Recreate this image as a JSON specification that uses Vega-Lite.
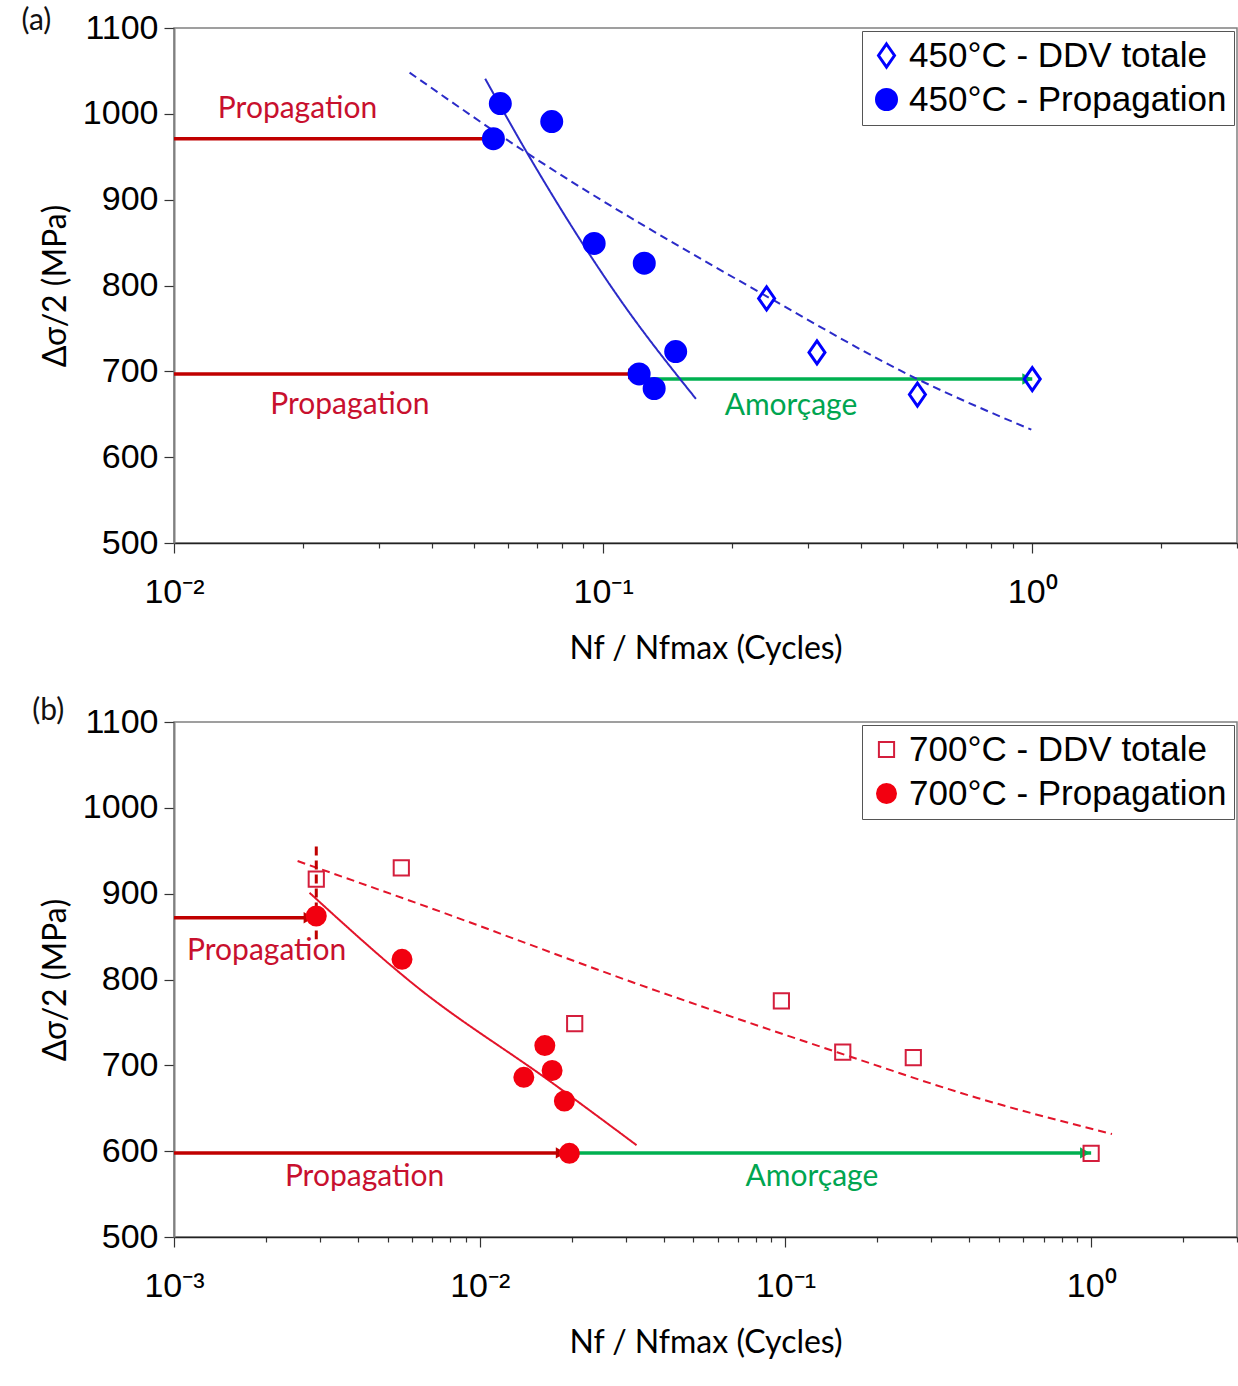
{
  "$schema": "https://vega.github.io/schema/vega-lite/v6.json",
  "padding": {"left": 20, "top": 5, "right": 0, "bottom": 0},
  "autosize": {"type": "pad"},
  "spacing": 179,
  "bounds": "flush",
  "background": "white",
  "config": {
    "view": {"stroke": "#808080", "strokeWidth": 1.5},
    "axis": {
      "labelFont": "Liberation Sans", "labelFontSize": 34, "labelColor": "#000",
      "titleFont": "Lato", "titleFontSize": 32, "titleFontWeight": "normal", "titleColor": "#000",
      "grid": false, "tickColor": "#333", "tickWidth": 1.2, "domainWidth": 1.5
    },
    "legend": {"labelFont": "Liberation Sans", "labelLimit": 0}
  },
  "resolve": {"scale": {"stroke": "independent", "fill": "independent", "shape": "independent", "strokeDash": "independent", "color": "independent"}},
  "vconcat": [
    {
      "width": 1063, "height": 515,
      "encoding": {
        "x": {"field": "x", "type": "quantitative",
          "scale": {"type": "log", "domain": [0.01, 3], "nice": false},
          "axis": {
            "values": [0.01,0.02,0.03,0.04,0.05,0.06,0.07,0.08,0.09,0.1,0.2,0.3,0.4,0.5,0.6,0.7,0.8,0.9,1,2,3],
            "labelExpr": "datum.value == 0.01 ? '10⁻²' : datum.value == 0.1 ? '10⁻¹' : datum.value == 1 ? '10⁰' : ''",
            "tickSize": {"condition": {"test": "datum.value == 0.01 || datum.value == 0.1 || datum.value == 1", "value": 10}, "value": 5},
            "labelOverlap": false, "labelFlush": false, "labelPadding": 22, "titlePadding": 24, "domainColor": "#222",
            "title": "Nf / Nfmax (Cycles)"
          }},
        "y": {"field": "y", "type": "quantitative",
          "scale": {"domain": [500, 1100], "nice": false, "zero": false},
          "axis": {"values": [500,600,700,800,900,1000,1100], "format": "d", "tickSize": 10, "labelPadding": 6, "titlePadding": 10, "domainColor": "#808080", "domainWidth": 2, "title": "Δσ/2 (MPa)"}}
      },
      "layer": [
        {
          "data": {"values": [
            {"phase": "Propagation", "x": 0.01, "x2": 0.0552, "y": 971},
            {"phase": "Propagation", "x": 0.01, "x2": 0.1206, "y": 697},
            {"phase": "Amorçage", "x": 0.1206, "x2": 1.0, "y": 691}
          ]},
          "mark": {"type": "rule", "strokeWidth": 3.5},
          "encoding": {
            "x2": {"field": "x2"},
            "color": {"condition": {"test": "datum.phase === 'Amorçage'", "value": "#00B050"}, "value": "#C00000"}
          }
        },
        {
          "data": {"values": [
            {"phase": "Propagation", "x": 0.054, "y": 971},
            {"phase": "Propagation", "x": 0.1174, "y": 697},
            {"phase": "Amorçage", "x": 0.9736, "y": 691}
          ]},
          "mark": {"type": "point", "shape": "triangle-right", "filled": true, "opacity": 1, "size": 130},
          "encoding": {
            "color": {"condition": {"test": "datum.phase === 'Amorçage'", "value": "#00B050"}, "value": "#C00000"}
          }
        },
        {
          "data": {"values": [
            {"fit": "DDV totale", "x": 0.0354, "y": 1048},
            {"fit": "DDV totale", "x": 0.0666, "y": 954},
            {"fit": "DDV totale", "x": 0.2393, "y": 788},
            {"fit": "DDV totale", "x": 0.54, "y": 691},
            {"fit": "DDV totale", "x": 0.995, "y": 632},
            {"fit": "Propagation", "x": 0.0531, "y": 1041},
            {"fit": "Propagation", "x": 0.0666, "y": 954},
            {"fit": "Propagation", "x": 0.1101, "y": 782},
            {"fit": "Propagation", "x": 0.1645, "y": 668}
          ]},
          "mark": {"type": "line", "color": "#2B2BC8", "strokeWidth": 2, "interpolate": "monotone"},
          "encoding": {
            "strokeDash": {"field": "fit", "type": "nominal", "scale": {"domain": ["DDV totale", "Propagation"], "range": [[8, 5], [1, 0]]}, "legend": null}
          }
        },
        {
          "data": {"values": [
            {"series": "450°C - Propagation", "x": 0.0555, "y": 971},
            {"series": "450°C - Propagation", "x": 0.0576, "y": 1012},
            {"series": "450°C - Propagation", "x": 0.0759, "y": 991},
            {"series": "450°C - Propagation", "x": 0.0953, "y": 849},
            {"series": "450°C - Propagation", "x": 0.1247, "y": 826},
            {"series": "450°C - Propagation", "x": 0.1476, "y": 723},
            {"series": "450°C - Propagation", "x": 0.1213, "y": 697},
            {"series": "450°C - Propagation", "x": 0.1315, "y": 680},
            {"series": "450°C - DDV totale", "x": 0.2404, "y": 785},
            {"series": "450°C - DDV totale", "x": 0.315, "y": 722},
            {"series": "450°C - DDV totale", "x": 0.54, "y": 673},
            {"series": "450°C - DDV totale", "x": 1.0, "y": 691}
          ]},
          "mark": {"type": "point", "opacity": 1, "size": 400, "strokeWidth": 3},
          "encoding": {
            "stroke": {"field": "series", "type": "nominal", "scale": {"domain": ["450°C - DDV totale", "450°C - Propagation"], "range": ["#0000FF", "#0000FF"]},
              "legend": {"title": null, "orient": "top-right", "offset": 3, "strokeColor": "#555", "fillColor": "white", "padding": 7, "labelFont": "Liberation Sans", "labelFontSize": 35, "labelColor": "#000", "labelLimit": 0, "symbolSize": 400, "symbolStrokeWidth": 3, "rowPadding": 8, "labelOffset": 5}},
            "fill": {"field": "series", "type": "nominal", "scale": {"domain": ["450°C - DDV totale", "450°C - Propagation"], "range": ["transparent", "#0000FF"]},
              "legend": {"title": null, "orient": "top-right", "offset": 3, "strokeColor": "#555", "fillColor": "white", "padding": 7, "labelFont": "Liberation Sans", "labelFontSize": 35, "labelColor": "#000", "labelLimit": 0, "symbolSize": 400, "symbolStrokeWidth": 3, "rowPadding": 8, "labelOffset": 5}},
            "shape": {"field": "series", "type": "nominal", "scale": {"domain": ["450°C - DDV totale", "450°C - Propagation"], "range": ["M0,-1.15L0.8,0L0,1.15L-0.8,0Z", "circle"]},
              "legend": {"title": null, "orient": "top-right", "offset": 3, "strokeColor": "#555", "fillColor": "white", "padding": 7, "labelFont": "Liberation Sans", "labelFontSize": 35, "labelColor": "#000", "labelLimit": 0, "symbolSize": 400, "symbolStrokeWidth": 3, "rowPadding": 8, "labelOffset": 5}}
          }
        },
        {
          "data": {"values": [
            {"label": "Propagation", "phase": "Propagation", "x": 0.0194, "y": 1006},
            {"label": "Propagation", "phase": "Propagation", "x": 0.0257, "y": 661},
            {"label": "Amorçage", "phase": "Amorçage", "x": 0.274, "y": 660},
            {"label": "(a)", "phase": "panel", "x": 0.00478, "y": 1108}
          ]},
          "mark": {"type": "text", "align": "center", "baseline": "middle", "clip": false, "font": "Lato", "fontSize": 30},
          "encoding": {
            "text": {"field": "label"},
            "color": {"condition": [{"test": "datum.phase === 'Amorçage'", "value": "#00A550"}, {"test": "datum.phase === 'panel'", "value": "#111111"}], "value": "#C8102E"}
          }
        }
      ]
    },
    {
      "width": 1063, "height": 515,
      "encoding": {
        "x": {"field": "x", "type": "quantitative",
          "scale": {"type": "log", "domain": [0.001, 3], "nice": false},
          "axis": {
            "values": [0.001,0.002,0.003,0.004,0.005,0.006,0.007,0.008,0.009,0.01,0.02,0.03,0.04,0.05,0.06,0.07,0.08,0.09,0.1,0.2,0.3,0.4,0.5,0.6,0.7,0.8,0.9,1,2,3],
            "labelExpr": "datum.value == 0.001 ? '10⁻³' : datum.value == 0.01 ? '10⁻²' : datum.value == 0.1 ? '10⁻¹' : datum.value == 1 ? '10⁰' : ''",
            "tickSize": {"condition": {"test": "datum.value == 0.001 || datum.value == 0.01 || datum.value == 0.1 || datum.value == 1", "value": 10}, "value": 5},
            "labelOverlap": false, "labelFlush": false, "labelPadding": 22, "titlePadding": 24, "domainColor": "#222",
            "title": "Nf / Nfmax (Cycles)"
          }},
        "y": {"field": "y", "type": "quantitative",
          "scale": {"domain": [500, 1100], "nice": false, "zero": false},
          "axis": {"values": [500,600,700,800,900,1000,1100], "format": "d", "tickSize": 10, "labelPadding": 6, "titlePadding": 10, "domainColor": "#808080", "domainWidth": 2, "title": "Δσ/2 (MPa)"}}
      },
      "layer": [
        {
          "data": {"values": [
            {"phase": "Propagation", "x": 0.001, "x2": 0.00284, "y": 872},
            {"phase": "Propagation", "x": 0.001, "x2": 0.0191, "y": 598},
            {"phase": "Amorçage", "x": 0.0198, "x2": 1.0, "y": 598}
          ]},
          "mark": {"type": "rule", "strokeWidth": 3.5},
          "encoding": {
            "x2": {"field": "x2"},
            "color": {"condition": {"test": "datum.phase === 'Amorçage'", "value": "#00B050"}, "value": "#C00000"}
          }
        },
        {
          "data": {"values": [
            {"phase": "Propagation", "x": 0.002755, "y": 872},
            {"phase": "Propagation", "x": 0.01841, "y": 598},
            {"phase": "Amorçage", "x": 0.955, "y": 598}
          ]},
          "mark": {"type": "point", "shape": "triangle-right", "filled": true, "opacity": 1, "size": 130},
          "encoding": {
            "color": {"condition": {"test": "datum.phase === 'Amorçage'", "value": "#00B050"}, "value": "#C00000"}
          }
        },
        {
          "data": {"values": [
            {"fit": "DDV totale", "x": 0.002537, "y": 938},
            {"fit": "DDV totale", "x": 0.00634, "y": 888},
            {"fit": "DDV totale", "x": 0.03646, "y": 789},
            {"fit": "DDV totale", "x": 0.1484, "y": 715},
            {"fit": "DDV totale", "x": 0.4246, "y": 662},
            {"fit": "DDV totale", "x": 1.17, "y": 620},
            {"fit": "Propagation", "x": 0.002776, "y": 901},
            {"fit": "Propagation", "x": 0.0062, "y": 792},
            {"fit": "Propagation", "x": 0.0172, "y": 680},
            {"fit": "Propagation", "x": 0.03259, "y": 607}
          ]},
          "mark": {"type": "line", "color": "#E3142A", "strokeWidth": 2, "interpolate": "monotone"},
          "encoding": {
            "strokeDash": {"field": "fit", "type": "nominal", "scale": {"domain": ["DDV totale", "Propagation"], "range": [[8, 5], [1, 0]]}, "legend": null}
          }
        },
        {
          "data": {"values": [
            {"x": 0.00292, "y": 955, "y2": 847}
          ]},
          "mark": {"type": "rule", "color": "#C00000", "strokeWidth": 3, "strokeDash": [9, 5]},
          "encoding": {"y2": {"field": "y2"}}
        },
        {
          "data": {"values": [
            {"series": "700°C - Propagation", "x": 0.00292, "y": 874},
            {"series": "700°C - Propagation", "x": 0.00557, "y": 823.5},
            {"series": "700°C - Propagation", "x": 0.01633, "y": 723},
            {"series": "700°C - Propagation", "x": 0.01394, "y": 686},
            {"series": "700°C - Propagation", "x": 0.01725, "y": 694},
            {"series": "700°C - Propagation", "x": 0.01892, "y": 658.5},
            {"series": "700°C - Propagation", "x": 0.01965, "y": 597.5},
            {"series": "700°C - DDV totale", "x": 0.00292, "y": 917},
            {"series": "700°C - DDV totale", "x": 0.00554, "y": 930},
            {"series": "700°C - DDV totale", "x": 0.02045, "y": 748.5},
            {"series": "700°C - DDV totale", "x": 0.097, "y": 775},
            {"series": "700°C - DDV totale", "x": 0.154, "y": 715.5},
            {"series": "700°C - DDV totale", "x": 0.262, "y": 709},
            {"series": "700°C - DDV totale", "x": 1.0, "y": 597.5}
          ]},
          "mark": {"type": "point", "opacity": 1, "size": 361, "strokeWidth": 2},
          "encoding": {
            "stroke": {"field": "series", "type": "nominal", "scale": {"domain": ["700°C - DDV totale", "700°C - Propagation"], "range": ["#D41E3C", "#F20010"]},
              "legend": {"title": null, "orient": "top-right", "offset": 3, "strokeColor": "#555", "fillColor": "white", "padding": 7, "labelFont": "Liberation Sans", "labelFontSize": 35, "labelColor": "#000", "labelLimit": 0, "symbolSize": 361, "symbolStrokeWidth": 2, "rowPadding": 8, "labelOffset": 5}},
            "fill": {"field": "series", "type": "nominal", "scale": {"domain": ["700°C - DDV totale", "700°C - Propagation"], "range": ["transparent", "#F20010"]},
              "legend": {"title": null, "orient": "top-right", "offset": 3, "strokeColor": "#555", "fillColor": "white", "padding": 7, "labelFont": "Liberation Sans", "labelFontSize": 35, "labelColor": "#000", "labelLimit": 0, "symbolSize": 361, "symbolStrokeWidth": 2, "rowPadding": 8, "labelOffset": 5}},
            "shape": {"field": "series", "type": "nominal", "scale": {"domain": ["700°C - DDV totale", "700°C - Propagation"], "range": ["M-0.8,-0.8H0.8V0.8H-0.8Z", "circle"]},
              "legend": {"title": null, "orient": "top-right", "offset": 3, "strokeColor": "#555", "fillColor": "white", "padding": 7, "labelFont": "Liberation Sans", "labelFontSize": 35, "labelColor": "#000", "labelLimit": 0, "symbolSize": 361, "symbolStrokeWidth": 2, "rowPadding": 8, "labelOffset": 5}}
          }
        },
        {
          "data": {"values": [
            {"label": "Propagation", "phase": "Propagation", "x": 0.00201, "y": 833},
            {"label": "Propagation", "phase": "Propagation", "x": 0.0042, "y": 570},
            {"label": "Amorçage", "phase": "Amorçage", "x": 0.1221, "y": 570},
            {"label": "(b)", "phase": "panel", "x": 0.000388, "y": 1113}
          ]},
          "mark": {"type": "text", "align": "center", "baseline": "middle", "clip": false, "font": "Lato", "fontSize": 30},
          "encoding": {
            "text": {"field": "label"},
            "color": {"condition": [{"test": "datum.phase === 'Amorçage'", "value": "#00A550"}, {"test": "datum.phase === 'panel'", "value": "#111111"}], "value": "#C8102E"}
          }
        }
      ]
    }
  ]
}
